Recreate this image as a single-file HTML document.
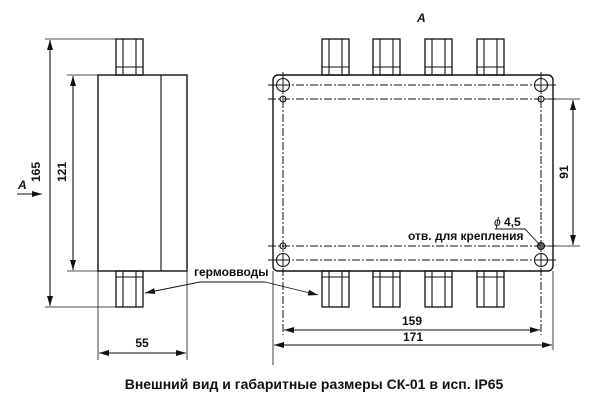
<!DOCTYPE html>
<html><head><meta charset="utf-8"><style>
html,body{margin:0;padding:0;background:#fff;width:600px;height:400px;overflow:hidden}
text{font-family:"Liberation Sans",sans-serif;font-weight:bold;fill:#111}
</style></head><body>
<svg width="600" height="400" viewBox="0 0 600 400" xmlns="http://www.w3.org/2000/svg">
<defs>
<marker id="a" viewBox="0 0 10 6" refX="10" refY="3" markerWidth="10" markerHeight="6" orient="auto-start-reverse" markerUnits="userSpaceOnUse"><path d="M0,0L10,3L0,6z" fill="#111"/></marker>
<g id="gl"><rect x="0" y="0" width="27" height="36" fill="none" stroke="#111" stroke-width="1.3"/><line x1="7" y1="0" x2="7" y2="36" stroke="#111" stroke-width="1.1"/><line x1="20" y1="0" x2="20" y2="36" stroke="#111" stroke-width="1.1"/></g>
<g id="hb"><circle r="6.5" fill="none" stroke="#111" stroke-width="1.1"/><path d="M-6.5,0h13M0,-6.5v13" stroke="#111" stroke-width="0.9"/></g>
</defs>
<g stroke="#111" fill="none" stroke-width="1.1">
<!-- left view -->
<rect x="98" y="75" width="89" height="196" stroke-width="1.4"/>
<line x1="161" y1="75" x2="161" y2="271"/>
<use href="#gl" x="116" y="39"/><line x1="116" y1="67" x2="143" y2="67"/>
<use href="#gl" x="116" y="271"/><line x1="116" y1="277" x2="143" y2="277"/>
<line x1="45" y1="39" x2="143" y2="39" stroke-width="0.8"/>
<line x1="45" y1="307" x2="143" y2="307" stroke-width="0.8"/>
<line x1="50" y1="40" x2="50" y2="306" marker-start="url(#a)" marker-end="url(#a)"/>
<line x1="67" y1="75" x2="98" y2="75" stroke-width="0.8"/>
<line x1="67" y1="271" x2="98" y2="271" stroke-width="0.8"/>
<line x1="73" y1="76" x2="73" y2="270" marker-start="url(#a)" marker-end="url(#a)"/>
<line x1="98" y1="271" x2="98" y2="360" stroke-width="0.8"/>
<line x1="187" y1="271" x2="187" y2="360" stroke-width="0.8"/>
<line x1="99" y1="353" x2="186" y2="353" marker-start="url(#a)" marker-end="url(#a)"/>
<line x1="17" y1="194" x2="42" y2="194" marker-end="url(#a)"/>
<polyline points="265,282 200,282 145,293" stroke-width="0.9" marker-end="url(#a)"/>
<polyline points="265,282 318,295" stroke-width="0.9" marker-end="url(#a)"/>
<!-- right view -->
<rect x="273" y="75" width="280" height="196" rx="5" stroke-width="1.4"/>
<use href="#gl" x="322" y="39"/><use href="#gl" x="373" y="39"/><use href="#gl" x="425" y="39"/><use href="#gl" x="477" y="39"/>
<use href="#gl" x="322" y="271"/><use href="#gl" x="373" y="271"/><use href="#gl" x="425" y="271"/><use href="#gl" x="477" y="271"/>
<path d="M322,67h27M373,67h27M425,67h27M477,67h27M322,277h27M373,277h27M425,277h27M477,277h27"/>
<g stroke-dasharray="8,2,2,2" stroke-width="1">
<line x1="268" y1="85" x2="557" y2="85"/><line x1="268" y1="99" x2="557" y2="99"/>
<line x1="268" y1="246" x2="557" y2="246"/><line x1="268" y1="260" x2="557" y2="260"/>
<line x1="283" y1="72" x2="283" y2="335"/><line x1="541" y1="72" x2="541" y2="335"/>
</g>
<use href="#hb" x="283" y="85"/><use href="#hb" x="541" y="85"/><use href="#hb" x="283" y="260"/><use href="#hb" x="541" y="260"/>
<circle cx="283" cy="99" r="3"/><circle cx="541" cy="99" r="3"/><circle cx="283" cy="246" r="3"/><circle cx="541" cy="246" r="3.5" fill="#666"/>
<line x1="545" y1="99" x2="580" y2="99" stroke-width="0.8"/>
<line x1="545" y1="246" x2="580" y2="246" stroke-width="0.8"/>
<line x1="573" y1="100" x2="573" y2="245" marker-start="url(#a)" marker-end="url(#a)"/>
<line x1="284" y1="330" x2="540" y2="330" marker-start="url(#a)" marker-end="url(#a)"/>
<line x1="273" y1="271" x2="273" y2="365" stroke-width="0.8"/>
<line x1="553" y1="271" x2="553" y2="350" stroke-width="0.8"/>
<line x1="274" y1="345" x2="552" y2="345" marker-start="url(#a)" marker-end="url(#a)"/>
<polyline points="495,229 525,229 541,246" stroke-width="0.9"/>
</g>
<text x="40" y="172" font-size="12" text-anchor="middle" transform="rotate(-90 40 172)">165</text>
<text x="66" y="172" font-size="12" text-anchor="middle" transform="rotate(-90 66 172)">121</text>
<text x="18" y="189" font-size="12" font-style="italic">A</text>
<text x="142" y="347" font-size="12" text-anchor="middle">55</text>
<text x="194" y="276" font-size="12">гермовводы</text>
<text x="417" y="22" font-size="12" font-style="italic">A</text>
<text x="568" y="172" font-size="12" text-anchor="middle" transform="rotate(-90 568 172)">91</text>
<text x="412" y="325" font-size="12" text-anchor="middle">159</text>
<text x="413" y="341" font-size="12" text-anchor="middle">171</text>
<text x="494" y="226" font-size="12"><tspan font-style="italic" font-weight="normal">ϕ</tspan> 4,5</text>
<text x="408" y="240" font-size="12">отв. для крепления</text>
<text x="314" y="389" font-size="14" text-anchor="middle">Внешний вид и габаритные размеры СК-01 в исп. IP65</text>
</svg>
</body></html>
